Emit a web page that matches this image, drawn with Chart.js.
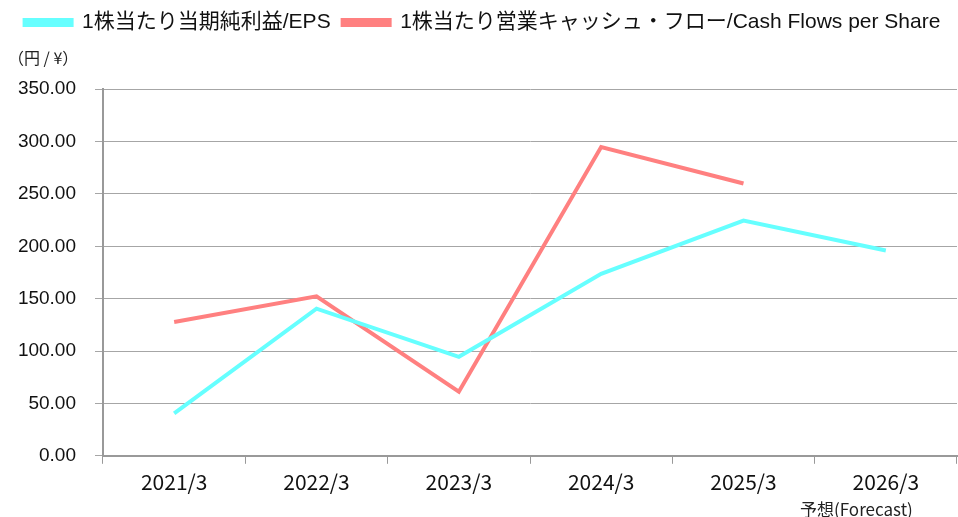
<!DOCTYPE html>
<html>
<head>
<meta charset="utf-8">
<script src="https://cdn.jsdelivr.net/npm/chart.js@4/dist/chart.umd.min.js"></script>
<style>
  html, body { margin: 0; padding: 0; background: #fff; }
  #wrap { position: relative; width: 958px; height: 517px; }
  #note { position: absolute; left: 800px; top: 496px; font: 17px "Noto Sans CJK JP", sans-serif; color: #222; }
</style>
</head>
<body>
<div id="wrap">
  <canvas id="epsChart" width="958" height="517"></canvas>
  <div id="note">予想(Forecast)</div>
</div>
<script>
// fiscal years (last one is forecast)
const years = ['2021/3', '2022/3', '2023/3', '2024/3', '2025/3', '2026/3'];
const epsValues = [40.5, 140.5, 94.5, 173.7, 224.5, 196.0];
const cashFlowValues = [127.8, 152.2, 61.2, 294.8, 260.0, null];
const yTicks = [0, 50, 100, 150, 200, 250, 300, 350];
const unitLabel = '（円 / ¥）';

const cyan = '#66ffff';
const salmon = '#ff8080';

new Chart(document.getElementById('epsChart').getContext('2d'), {
    type: 'line',
    data: {
        labels: years,
        datasets: [
            { label: '1株当たり当期純利益/EPS', data: epsValues, borderColor: cyan, backgroundColor: cyan, borderWidth: 4, pointRadius: 0, tension: 0 },
            { label: '1株当たり営業キャッシュ・フロー/Cash Flows per Share', data: cashFlowValues, borderColor: salmon, backgroundColor: salmon, borderWidth: 4, pointRadius: 0, tension: 0 }
        ]
    },
    options: {
        responsive: false,
        animation: false,
        layout: { padding: { top: 0, left: 8, right: 1, bottom: 16 } },
        plugins: {
            tooltip: { enabled: false },
            legend: {
                position: 'top', weight: 3000,
                labels: {
                    boxWidth: 47, boxHeight: 5, padding: 12, color: '#111',
                    font: { family: '"Liberation Sans", "Noto Sans CJK JP"', size: 21 }
                }
            },
            title: {
                display: true, text: unitLabel, align: 'start', position: 'top',
                color: '#222', font: { family: '"Noto Sans CJK JP"', size: 16, weight: 'normal' },
                padding: { top: 5, bottom: 22 }
            }
        },
        scales: {
            x: {
                offset: true,
                grid: { drawOnChartArea: false, drawTicks: true, tickLength: 8, color: '#999', offset: true },
                border: { color: '#999', width: 2 },
                ticks: { color: '#111', padding: 6, maxRotation: 0, font: { family: '"Noto Sans CJK JP"', size: 21 } }
            },
            y: {
                min: 0, max: 350,
                afterBuildTicks: axis => { axis.ticks = yTicks.map(v => ({ value: v })); },
                afterFit: axis => { axis.width = 95; },
                grid: { color: '#a6a6a6', lineWidth: 1, tickLength: 8 },
                border: { color: '#999', width: 2 },
                ticks: {
                    color: '#111', padding: 19,
                    font: { family: '"Liberation Sans"', size: 19 },
                    callback: v => v.toFixed(2)
                }
            }
        }
    }
});
</script>
</body>
</html>
